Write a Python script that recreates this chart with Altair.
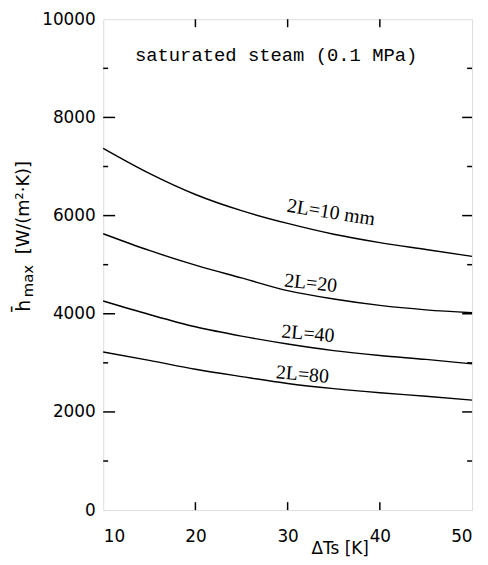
import altair as alt
import pandas as pd

# Data
dT = [10, 15, 20, 25, 30, 35, 40, 45, 50]
h_10 = [7370, 6860, 6430, 6100, 5840, 5620, 5450, 5310, 5170]
h_20 = [5630, 5290, 4990, 4730, 4470, 4300, 4170, 4080, 4020]
h_40 = [4260, 3985, 3735, 3545, 3385, 3250, 3150, 3070, 2980]
h_80 = [3220, 3050, 2870, 2720, 2580, 2475, 2390, 2320, 2240]
series_names = ["2L=10 mm", "2L=20", "2L=40", "2L=80"]

# Curve annotations
label_text = ["2L=10 mm", "2L=20", "2L=40", "2L=80"]
label_dT = [34.7, 32.5, 32.2, 31.6]
label_h = [6060, 4620, 3590, 2760]
label_angle = [9, 6, 5, 5]

x_ticks = [10, 20, 30, 40, 50]
y_ticks = [0, 2000, 4000, 6000, 8000, 10000]
y_major_inner = [2000, 4000, 6000, 8000]
y_minor_inner = [1000, 3000, 5000, 7000, 9000]
x_inner = [20, 30, 40]

rows = []
for name, vals in zip(series_names, [h_10, h_20, h_40, h_80]):
    for t, v in zip(dT, vals):
        rows.append({"dT": t, "h": v, "series": name})
df = pd.DataFrame(rows)

lab = pd.DataFrame({"text": label_text, "dT": label_dT, "h": label_h, "angle": label_angle})

W, H = 372, 495
xs = alt.Scale(domain=[10, 50], nice=False, zero=False)
ys = alt.Scale(domain=[0, 10000], nice=False)

lines = alt.Chart(df).mark_line(color="black", strokeWidth=1.4, interpolate="monotone").encode(
    x=alt.X("dT:Q", scale=xs, axis=alt.Axis(values=x_ticks, ticks=False, domain=False, grid=False,
                                            title=None, labelFontSize=17, labelFont="DejaVu Sans",
                                            labelColor="black", labelPadding=19, format="d")),
    y=alt.Y("h:Q", scale=ys, axis=alt.Axis(values=y_ticks, ticks=False, domain=False, grid=False,
                                           title=None, labelFontSize=17, labelFont="DejaVu Sans",
                                           labelColor="black", labelPadding=8, format="d")),
    detail="series:N",
)

labels = alt.Chart(lab).mark_text(font="Liberation Serif", fontSize=20, color="black").encode(
    x=alt.X("dT:Q", scale=xs),
    y=alt.Y("h:Q", scale=ys),
    text="text:N",
    angle=alt.Angle("angle:Q", scale=None),
)

def yrule(vals, x0, x1):
    return alt.Chart(pd.DataFrame({"v": vals})).mark_rule(color="black", strokeWidth=1.5).encode(
        y=alt.Y("v:Q", scale=ys), x=alt.value(x0), x2=alt.value(x1))

def xrule(vals, y0, y1):
    return alt.Chart(pd.DataFrame({"v": vals})).mark_rule(color="black", strokeWidth=1.5).encode(
        x=alt.X("v:Q", scale=xs), y=alt.value(y0), y2=alt.value(y1))

one = pd.DataFrame({"a": [0]})

def txt(s, x, y, size, font="DejaVu Sans", angle=0, align="center"):
    return alt.Chart(one).mark_text(font=font, fontSize=size, align=align, baseline="middle",
                                    angle=angle, color="black").encode(
        x=alt.value(x), y=alt.value(y), text=alt.value(s))

title_txt = txt("saturated steam (0.1 MPa)", 32, 36, 19, font="Liberation Mono", align="left")
xtitle = txt("ΔTs [K]", 239, 534, 17)
yt_h = txt("h̄", -80, 289, 19, angle=270)
yt_max = txt("max", -76, 264, 15, angle=270)
yt_unit = txt("[W/(m²·K)]", -80, 190, 18, angle=270)

chart = alt.layer(
    lines, labels,
    yrule(y_major_inner, 0, 12), yrule(y_minor_inner, 0, 5),
    yrule(y_major_inner, W, W - 10), yrule(y_minor_inner, W, W - 5),
    xrule(x_inner, H, H - 8), xrule(x_inner, 0, 8),
    title_txt, xtitle, yt_h, yt_max, yt_unit,
).properties(
    width=W, height=H,
    autosize=alt.AutoSizeParams(type="none"),
    padding={"left": 96, "top": 9, "right": 8, "bottom": 52},
).configure_view(stroke="black", strokeWidth=2).configure(background="white")

chart.save("out.html", embed_options={"renderer": "svg", "actions": False})
